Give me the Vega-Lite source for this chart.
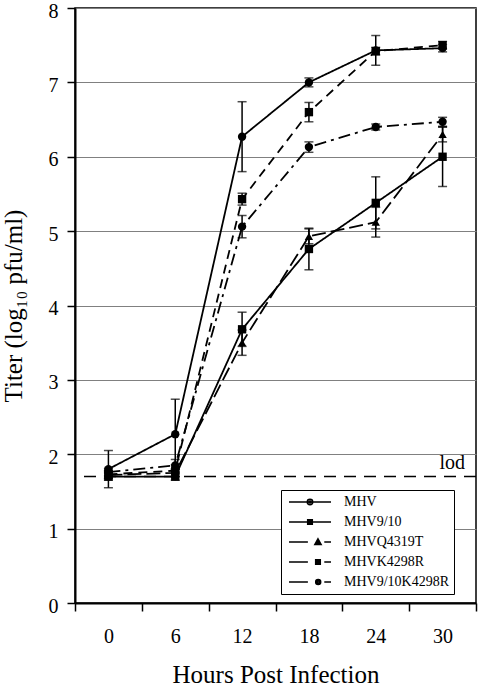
{
  "$schema": "https://vega.github.io/schema/vega-lite/v6.json",
  "width": 401,
  "height": 595,
  "autosize": {"type": "none"},
  "padding": {"left": 75, "top": 8, "right": 4, "bottom": 85},
  "config": {
    "font": "Liberation Serif",
    "view": {"stroke": "black", "strokeWidth": 1.5},
    "axis": {
      "labelFont": "Liberation Serif",
      "titleFont": "Liberation Serif",
      "labelColor": "black",
      "titleColor": "black",
      "titleFontWeight": "normal",
      "domainColor": "black",
      "domainWidth": 2,
      "tickColor": "black",
      "tickWidth": 1.5,
      "tickSize": 8
    }
  },
  "datasets": {
    "titers": [
      {"series": "MHV", "hour": 0, "titer": 1.80, "lo": 1.55, "hi": 2.05},
      {"series": "MHV", "hour": 6, "titer": 2.27, "lo": 1.80, "hi": 2.74},
      {"series": "MHV", "hour": 12, "titer": 6.27, "lo": 5.80, "hi": 6.74},
      {"series": "MHV", "hour": 18, "titer": 7.00, "lo": 6.94, "hi": 7.06},
      {"series": "MHV", "hour": 24, "titer": 7.43, "lo": 7.23, "hi": 7.63},
      {"series": "MHV", "hour": 30, "titer": 7.46, "lo": 7.41, "hi": 7.51},
      {"series": "MHV9/10", "hour": 0, "titer": 1.70, "lo": 1.65, "hi": 1.75},
      {"series": "MHV9/10", "hour": 6, "titer": 1.70, "lo": 1.65, "hi": 1.75},
      {"series": "MHV9/10", "hour": 12, "titer": 3.68, "lo": 3.45, "hi": 3.91},
      {"series": "MHV9/10", "hour": 18, "titer": 4.76, "lo": 4.48, "hi": 5.04},
      {"series": "MHV9/10", "hour": 24, "titer": 5.38, "lo": 5.03, "hi": 5.73},
      {"series": "MHV9/10", "hour": 30, "titer": 6.00, "lo": 5.60, "hi": 6.40},
      {"series": "MHVQ4319T", "hour": 0, "titer": 1.72, "lo": 1.67, "hi": 1.77},
      {"series": "MHVQ4319T", "hour": 6, "titer": 1.75, "lo": 1.70, "hi": 1.80},
      {"series": "MHVQ4319T", "hour": 12, "titer": 3.50, "lo": 3.33, "hi": 3.67},
      {"series": "MHVQ4319T", "hour": 18, "titer": 4.93, "lo": 4.83, "hi": 5.03},
      {"series": "MHVQ4319T", "hour": 24, "titer": 5.12, "lo": 4.92, "hi": 5.32},
      {"series": "MHVQ4319T", "hour": 30, "titer": 6.30, "lo": 6.20, "hi": 6.40},
      {"series": "MHVK4298R", "hour": 0, "titer": 1.73, "lo": 1.68, "hi": 1.78},
      {"series": "MHVK4298R", "hour": 6, "titer": 1.78, "lo": 1.70, "hi": 1.86},
      {"series": "MHVK4298R", "hour": 12, "titer": 5.43, "lo": 5.35, "hi": 5.51},
      {"series": "MHVK4298R", "hour": 18, "titer": 6.60, "lo": 6.47, "hi": 6.73},
      {"series": "MHVK4298R", "hour": 24, "titer": 7.42, "lo": 7.37, "hi": 7.47},
      {"series": "MHVK4298R", "hour": 30, "titer": 7.50, "lo": 7.45, "hi": 7.55},
      {"series": "MHV9/10K4298R", "hour": 0, "titer": 1.76, "lo": 1.71, "hi": 1.81},
      {"series": "MHV9/10K4298R", "hour": 6, "titer": 1.85, "lo": 1.77, "hi": 1.93},
      {"series": "MHV9/10K4298R", "hour": 12, "titer": 5.06, "lo": 4.91, "hi": 5.21},
      {"series": "MHV9/10K4298R", "hour": 18, "titer": 6.13, "lo": 6.06, "hi": 6.20},
      {"series": "MHV9/10K4298R", "hour": 24, "titer": 6.40, "lo": 6.36, "hi": 6.44},
      {"series": "MHV9/10K4298R", "hour": 30, "titer": 6.47, "lo": 6.41, "hi": 6.53}
    ],
    "limit": [
      {"label": "lod", "value": 1.7}
    ]
  },
  "encoding": {
    "x": {
      "field": "hour",
      "type": "ordinal",
      "scale": {"type": "band", "paddingInner": 0, "paddingOuter": 0},
      "axis": {
        "title": "Hours Post Infection",
        "tickBand": "extent",
        "labelAngle": 0,
        "labelFontSize": 20,
        "titleFontSize": 25,
        "labelPadding": 15,
        "titlePadding": 16,
        "grid": false
      }
    }
  },
  "layer": [
    {
      "data": {"name": "limit"},
      "mark": {"type": "rule", "stroke": "black", "strokeWidth": 1.5, "strokeDash": [12, 8]},
      "encoding": {"x": null, "y": {"field": "value", "type": "quantitative", "title": "Titer (log₁₀ pfu/ml)"}}
    },
    {
      "data": {"name": "limit"},
      "mark": {"type": "text", "align": "right", "baseline": "alphabetic", "fontSize": 20, "font": "Liberation Serif", "color": "black", "dx": -11, "dy": -8},
      "encoding": {
        "x": {"datum": 30, "bandPosition": 1},
        "y": {"field": "value", "type": "quantitative", "title": "Titer (log₁₀ pfu/ml)"},
        "text": {"field": "label"}
      }
    },
    {
      "data": {"name": "titers"},
      "mark": {"type": "line", "stroke": "black", "strokeWidth": 1.8},
      "encoding": {
        "y": {
          "field": "titer",
          "type": "quantitative",
          "title": "Titer (log₁₀ pfu/ml)",
          "scale": {"domain": [0, 8], "nice": false},
          "axis": {
            "values": [0, 1, 2, 3, 4, 5, 6, 7, 8],
            "format": "d",
            "grid": true,
            "gridColor": "#808080",
            "gridWidth": 1,
            "labelFontSize": 20,
            "labelOffset": 3,
            "titleFontSize": 25,
            "labelPadding": 9,
            "titlePadding": 22
          }
        },
        "strokeDash": {
          "field": "series",
          "type": "nominal",
          "scale": {
            "domain": ["MHV", "MHV9/10", "MHVQ4319T", "MHVK4298R", "MHV9/10K4298R"],
            "range": [[1, 0], [1, 0], [14, 5], [9, 6], [12, 5, 3, 5]]
          },
          "legend": null
        }
      }
    },
    {
      "data": {"name": "titers"},
      "mark": {"type": "point", "filled": true, "color": "black", "opacity": 1, "size": 70},
      "encoding": {
        "y": {"field": "titer", "type": "quantitative", "title": "Titer (log₁₀ pfu/ml)"},
        "shape": {
          "field": "series",
          "type": "nominal",
          "scale": {
            "domain": ["MHV", "MHV9/10", "MHVQ4319T", "MHVK4298R", "MHV9/10K4298R"],
            "range": ["circle", "square", "triangle-up", "square", "circle"]
          },
          "legend": null
        }
      }
    },
    {
      "data": {"name": "titers"},
      "mark": {"type": "errorbar", "color": "black", "ticks": {"size": 9, "thickness": 1.5}, "rule": {"strokeWidth": 1.5}},
      "encoding": {
        "y": {"field": "lo", "type": "quantitative", "title": "Titer (log₁₀ pfu/ml)"},
        "y2": {"field": "hi"}
      }
    },
    {
      "data": {"name": "titers"},
      "mark": {"type": "point", "filled": false, "stroke": "black", "strokeWidth": 2, "opacity": 0},
      "encoding": {
        "y": {"field": "titer", "type": "quantitative", "title": "Titer (log₁₀ pfu/ml)"},
        "shape": {
          "field": "series",
          "type": "nominal",
          "scale": {
            "domain": ["MHV", "MHV9/10", "MHVQ4319T", "MHVK4298R", "MHV9/10K4298R"],
            "range": [
              "M-1,0H1M0.13,0A0.13,0.13 0 1,1 -0.13,0A0.13,0.13 0 1,1 0.13,0ZM0.05,0A0.05,0.05 0 1,1 -0.05,0A0.05,0.05 0 1,1 0.05,0Z",
              "M-1,0H1M-0.11,-0.11H0.11V0.11H-0.11ZM-0.04,-0.04H0.04V0.04H-0.04Z",
              "M-1,0H-0.1M0.38,-0.15L0.53,0.12H0.23ZM0.38,-0.03L0.43,0.06H0.33ZM0.68,0H1",
              "M-1,0H-0.1M0.27,-0.11H0.49V0.11H0.27ZM0.34,-0.04H0.42V0.04H0.34ZM0.68,0H1",
              "M-1,0H-0.1M0.51,0A0.12,0.12 0 1,1 0.27,0A0.12,0.12 0 1,1 0.51,0ZM0.44,0A0.05,0.05 0 1,1 0.34,0A0.05,0.05 0 1,1 0.44,0ZM0.68,0H1"
            ]
          },
          "legend": {
            "title": null,
            "orient": "none",
            "legendX": 206,
            "legendY": 482,
            "symbolSize": 1764,
            "clipHeight": 16,
            "rowPadding": 4,
            "padding": 4,
            "symbolOffset": 3,
            "labelOffset": 12,
            "labelFontSize": 14,
            "labelFont": "Liberation Serif",
            "labelColor": "black",
            "strokeColor": "black",
            "fillColor": "white",
            "encode": {
              "legend": {"update": {"strokeWidth": {"value": 1.5}}},
              "symbols": {
                "update": {
                  "stroke": {"value": "black"},
                  "strokeWidth": {"value": 2},
                  "opacity": {"value": 1},
                  "strokeOpacity": {"value": 1}
                }
              }
            }
          }
        }
      }
    }
  ],
  "resolve": {"scale": {"shape": "independent"}}
}
